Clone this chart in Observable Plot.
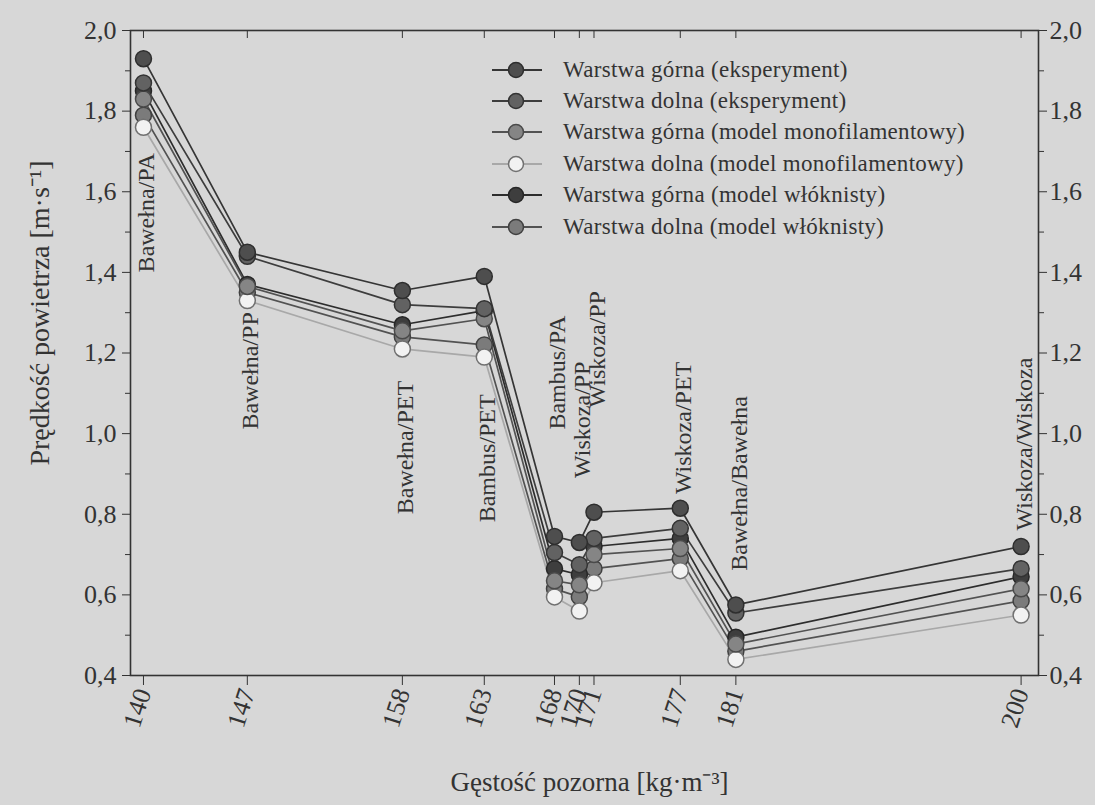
<!DOCTYPE html>
<html><head><meta charset="utf-8">
<script src="https://cdn.jsdelivr.net/npm/d3@7"></script>
<script src="https://cdn.jsdelivr.net/npm/@observablehq/plot@0.6"></script>
<style>
html,body{margin:0;padding:0;background:#d7d7d7;}
#wrap{position:relative;width:1095px;height:805px;overflow:hidden;}
#legend{position:absolute;left:492px;top:54px;font-family:"Liberation Serif",serif;font-size:23px;letter-spacing:0.3px;color:#333;}
.row{display:flex;align-items:center;height:31.4px;white-space:nowrap;}
.row svg{margin-right:21px;display:block;}
</style></head><body><div id="wrap"><div id="legend"></div></div>
<script>
// ---- data ----
const density = [140, 147.1, 157.7, 163.3, 168.1, 169.8, 170.8, 176.7, 180.5, 200];
const densityLabels = ["140", "147", "158", "163", "168", "170", "171", "177", "181", "200"];
const materials = ["Bawełna/PA", "Bawełna/PP", "Bawełna/PET", "Bambus/PET", "Bambus/PA", "Wiskoza/PP", "Wiskoza/PP", "Wiskoza/PET", "Bawełna/Bawełna", "Wiskoza/Wiskoza"];
const materialLabelAt = [1.40, 1.01, 0.80, 0.78, 1.01, 0.89, 1.065, 0.85, 0.66, 0.76];

const gornaEksperyment = [1.93, 1.45, 1.355, 1.39, 0.745, 0.73, 0.805, 0.815, 0.575, 0.72];
const dolnaEksperyment = [1.87, 1.44, 1.32, 1.31, 0.705, 0.675, 0.74, 0.765, 0.555, 0.665];
const gornaMonofilament = [1.83, 1.365, 1.255, 1.285, 0.635, 0.625, 0.70, 0.715, 0.478, 0.615];
const dolnaMonofilament = [1.76, 1.33, 1.21, 1.19, 0.595, 0.56, 0.63, 0.66, 0.44, 0.55];
const gornaWloknisty = [1.85, 1.37, 1.27, 1.305, 0.665, 0.65, 0.72, 0.74, 0.495, 0.645];
const dolnaWloknisty = [1.79, 1.35, 1.24, 1.22, 0.615, 0.595, 0.665, 0.69, 0.46, 0.585];

const seriesNames = [
  "Warstwa górna (eksperyment)",
  "Warstwa dolna (eksperyment)",
  "Warstwa górna (model monofilamentowy)",
  "Warstwa dolna (model monofilamentowy)",
  "Warstwa górna (model włóknisty)",
  "Warstwa dolna (model włóknisty)"
];
const seriesValues = [gornaEksperyment, dolnaEksperyment, gornaMonofilament, dolnaMonofilament, gornaWloknisty, dolnaWloknisty];

const yTicks = [0.4, 0.6, 0.8, 1.0, 1.2, 1.4, 1.6, 1.8, 2.0];
const yMinorTicks = [0.5, 0.7, 0.9, 1.1, 1.3, 1.5, 1.7, 1.9];
const xTitle = "Gęstość pozorna [kg·m⁻³]";
const yTitle = "Prędkość powietrza [m·s⁻¹]";

// ---- styles ----
const lineColors = ["#353535", "#3d3d3d", "#525252", "#a8a8a8", "#2d2d2d", "#525252"];
const fillColors = ["#4e4e4e", "#626262", "#858585", "#f2f2f2", "#3e3e3e", "#7b7b7b"];
const strokeColors = ["#2e2e2e", "#333333", "#4a4a4a", "#707070", "#262626", "#404040"];

const rows = [];
seriesNames.forEach((name, s) => {
  seriesValues[s].forEach((v, i) => rows.push({series: name, s, x: density[i], y: v}));
});
const labelRows = materials.map((m, i) => ({x: density[i], y: materialLabelAt[i], text: m}));
const fmt = d => d.toFixed(1).replace(".", ",");
const font = "Liberation Serif";

const lineMarks = [];
const dotMarks = [];
for (let s = seriesNames.length - 1; s >= 0; s--) {
  const data = rows.filter(r => r.s === s);
  lineMarks.push(Plot.line(data, {x: "x", y: "y", stroke: lineColors[s], strokeWidth: 1.7}));
  dotMarks.push(Plot.dot(data, {x: "x", y: "y", r: 8, fill: fillColors[s], stroke: strokeColors[s], strokeWidth: 1.5}));
}

const chart = Plot.plot({
  width: 1095,
  height: 805,
  marginLeft: 130,
  marginRight: 57,
  marginTop: 30,
  marginBottom: 130,
  style: {background: "transparent", fontFamily: font, color: "#333"},
  x: {type: "linear", domain: [139.113, 201.19]},
  y: {domain: [0.4, 2.0]},
  marks: [
    Plot.frame({stroke: "#333", strokeWidth: 1.6}),
    Plot.axisY({anchor: "left", ticks: yTicks, tickFormat: fmt, tickSize: 8, tickPadding: 6, fontSize: 26, label: null, stroke: "#333"}),
    Plot.axisY({anchor: "left", ticks: yMinorTicks, tickFormat: () => "", tickSize: 5, label: null, stroke: "#333"}),
    Plot.axisY({anchor: "right", ticks: yTicks, tickFormat: fmt, tickSize: 8, tickPadding: 3, fontSize: 26, label: null, stroke: "#333"}),
    Plot.axisY({anchor: "right", ticks: yMinorTicks, tickFormat: () => "", tickSize: 5, label: null, stroke: "#333"}),
    Plot.axisX({anchor: "bottom", ticks: density, tickFormat: (d) => densityLabels[density.indexOf(d)], tickSize: 10, tickPadding: 4, tickRotate: -72, fontSize: 26, label: null, stroke: "#333"}),
    Plot.axisX({anchor: "top", ticks: density, tickFormat: () => "", tickSize: -7, label: null, stroke: "#333"}),
    ...lineMarks,
    ...dotMarks,
    Plot.text(labelRows, {x: "x", y: "y", text: "text", rotate: -90, textAnchor: "start", lineAnchor: "middle", dx: 3, fontSize: 24, fill: "#333"}),
    Plot.text([yTitle], {frameAnchor: "left", text: d => d, rotate: -90, textAnchor: "middle", lineAnchor: "middle", dx: -90, dy: -40, fontSize: 28, fill: "#333"}),
    Plot.text([xTitle], {frameAnchor: "bottom", text: d => d, textAnchor: "middle", lineAnchor: "middle", dx: 5, dy: 107, fontSize: 27, fill: "#333"})
  ]
});
document.getElementById("wrap").prepend(chart);

// legend
const legend = document.getElementById("legend");
seriesNames.forEach((name, s) => {
  const row = document.createElement("div");
  row.className = "row";
  row.innerHTML = `<svg width="50" height="20"><line x1="0" x2="50" y1="10" y2="10" stroke="${lineColors[s]}" stroke-width="1.8"/><circle cx="24" cy="10" r="7.5" fill="${fillColors[s]}" stroke="${strokeColors[s]}" stroke-width="1.5"/></svg><span>${name}</span>`;
  legend.appendChild(row);
});
</script></body></html>
